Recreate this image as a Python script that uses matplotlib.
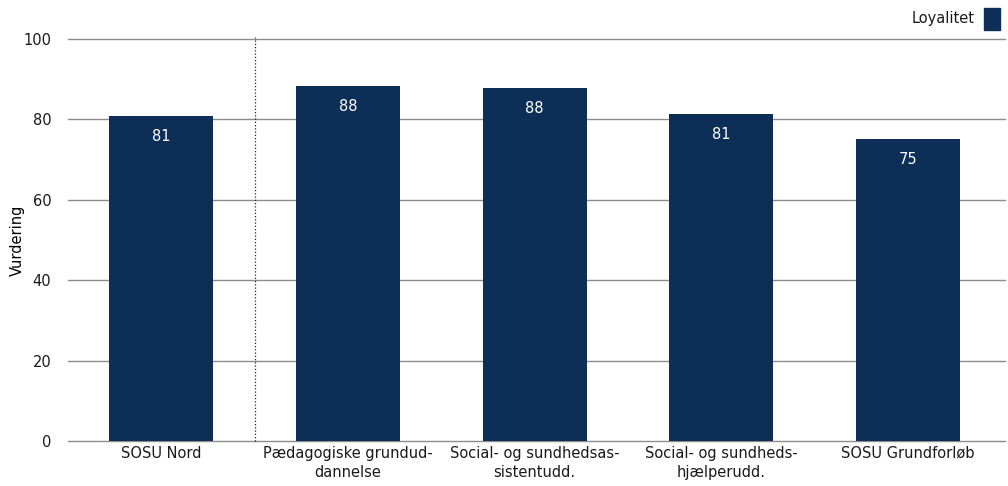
import matplotlib.pyplot as plt
from matplotlib.patches import Rectangle

categories = ["SOSU Nord", "Pædagogiske grundud-\ndannelse", "Social- og sundhedsas-\nsistentudd.",
              "Social- og sundheds-\nhjælperudd.", "SOSU Grundforløb"]
values = [80.8, 88.3, 87.8, 81.3, 75.1]
value_labels = ["81", "88", "88", "81", "75"]
series_name = "Loyalitet"
yticks = [0, 20, 40, 60, 80, 100]

NAVY = "#0C2E57"
GRID = "#8C8C8C"

plt.rcParams["font.family"] = ["DejaVu Sans"]

fig = plt.figure(figsize=(10.08, 4.86), dpi=100)
ax = fig.add_axes([68 / 1008, 45 / 486, (1005 - 68) / 1008, (441 - 39) / 486])

x = list(range(len(categories)))
bars = ax.bar(x, values, width=0.557, color=NAVY, zorder=3)
for b, lab in zip(bars, value_labels):
    ax.annotate(lab, (b.get_x() + b.get_width() / 2, b.get_height()), xytext=(0, -14.5),
                textcoords="offset points", ha="center", va="center", color="white",
                fontsize=10.5, zorder=4)

ax.set_xlim(-0.5, len(categories) - 0.5 + 0.02)
ax.set_ylim(0, 100)
ax.set_yticks(yticks)
for t in yticks:
    ax.axhline(t, color=GRID, lw=1.0, zorder=0, clip_on=False)
for s in ax.spines.values():
    s.set_visible(False)
ax.tick_params(axis="both", length=0, labelsize=10.5, colors="#1a1a1a")
ax.tick_params(axis="y", pad=12)
ax.set_xticks(x)
ax.set_xticklabels(categories, linespacing=1.35)
ax.set_ylabel("Vurdering", fontsize=10.5, va="center")
ax.yaxis.set_label_coords(17 / 1008, 1 - 240 / 486, transform=fig.transFigure)

# dotted separator between first and remaining categories
ax.plot([0.5, 0.5], [0, 100.5], color="#222222", lw=0.9, ls=(0, (1, 1.6)), zorder=2, clip_on=False)

# legend at top right
fig.text(975 / 1008, 1 - 19 / 486, series_name, ha="right", va="center", fontsize=10.5, color="#1a1a1a")
fig.patches.append(Rectangle((984 / 1008, 1 - 30 / 486), 16 / 1008, 22 / 486,
                             transform=fig.transFigure, color=NAVY))

fig.savefig("out.png", dpi=100)
